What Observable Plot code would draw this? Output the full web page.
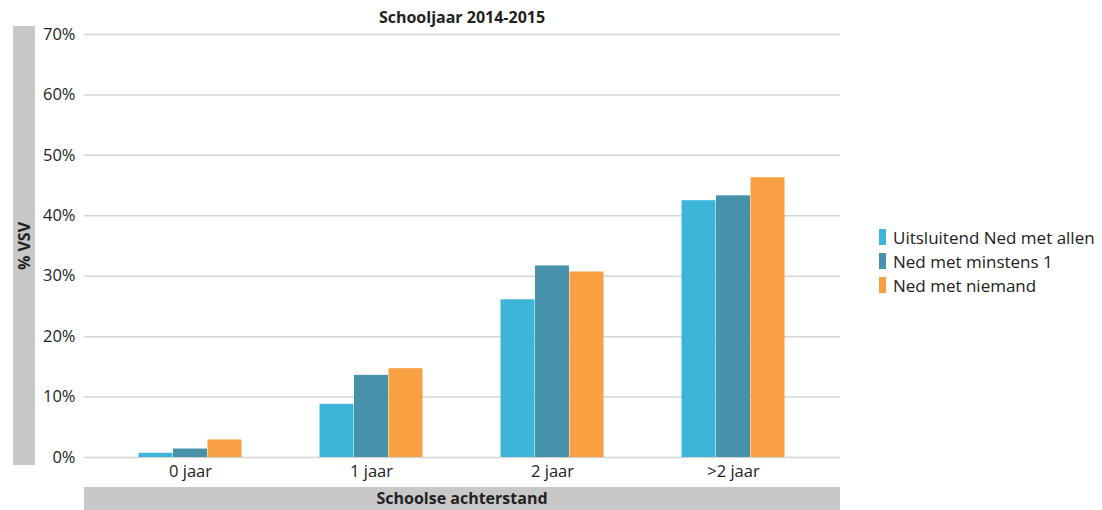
<!DOCTYPE html>
<html><head><meta charset="utf-8">
<script src="https://cdn.jsdelivr.net/npm/d3@7"></script>
<script src="https://cdn.jsdelivr.net/npm/@observablehq/plot@0.6"></script>
<style>
html,body{margin:0;padding:0;background:#fff;}
#wrap{position:relative;width:1102px;height:510px;font-family:"Open Sans",sans-serif;color:#222;}
#title{position:absolute;left:84px;width:756px;top:6px;text-align:center;font-weight:bold;font-size:16px;}
#ylab{position:absolute;left:13px;top:26px;width:22px;height:439px;background:#c8c8c9;}
#ylab span{position:absolute;left:50%;top:50%;transform:translate(-50%,-50%) rotate(-90deg);font-weight:bold;font-size:16px;white-space:nowrap;}
#xlab{position:absolute;left:84px;top:487px;width:756px;height:23px;background:#c8c8c9;text-align:center;font-weight:bold;font-size:16px;line-height:23px;}
#legend{position:absolute;left:879px;top:225px;font-size:17px;}
#legend div{height:24px;display:flex;align-items:center;}
#legend i{display:inline-block;width:7px;height:16px;margin-right:7px;}
#chart{position:absolute;left:0;top:0;}
</style></head>
<body><div id="wrap"><div id="chart"></div><div id="title"></div><div id="ylab"><span></span></div><div id="xlab"></div><div id="legend"></div></div>
<script>
const title = "Schooljaar 2014-2015";
const yTitle = "% VSV";
const xTitle = "Schoolse achterstand";
const categories = ["0 jaar", "1 jaar", "2 jaar", ">2 jaar"];
const series = ["Uitsluitend Ned met allen", "Ned met minstens 1", "Ned met niemand"];
const colors = ["#3db5d8", "#4692aa", "#f9a042"];
const valuesAllen = [0.7, 8.8, 26.1, 42.5];
const valuesMinstens = [1.4, 13.6, 31.7, 43.3];
const valuesNiemand = [2.9, 14.7, 30.7, 46.3];
const yTicks = [0, 10, 20, 30, 40, 50, 60, 70];

const seriesValues = [valuesAllen, valuesMinstens, valuesNiemand];
const data = series.flatMap((s, i) => categories.map((c, j) => ({series: s, cat: c, value: seriesValues[i][j] / 100})));

document.getElementById("title").textContent = title;
document.querySelector("#ylab span").textContent = yTitle;
document.getElementById("xlab").textContent = xTitle;
const leg = document.getElementById("legend");
series.forEach((s, i) => {
  const d = document.createElement("div");
  d.innerHTML = `<i style="background:${colors[i]}"></i>`;
  d.appendChild(document.createTextNode(s));
  leg.appendChild(d);
});

const offsets = [-34.5, 0, 34.5];
const chart = Plot.plot({
  width: 1102, height: 510,
  marginLeft: 84, marginRight: 262, marginTop: 34, marginBottom: 53,
  style: {fontFamily: "'Open Sans', sans-serif", fontSize: "16.5px", color: "#222", background: "transparent"},
  x: {domain: categories, paddingInner: 0.81, paddingOuter: 0.482, label: null},
  y: {domain: [0, 0.7], label: null},
  color: {domain: series, range: colors},
  marks: [
    Plot.ruleY(yTicks.map(t => t / 100), {stroke: "#d4d4d4", strokeWidth: 1.5}),
    Plot.ruleX([0], {frameAnchor: "left", y1: 0, y2: 0.7, stroke: "#d4d4d4", strokeWidth: 1.5}),
    ...series.map((s, i) => Plot.barY(data.filter(d => d.series === s), {x: "cat", y: "value", fill: "series", dx: offsets[i]})),
    Plot.axisY({ticks: yTicks.map(t => t / 100), tickFormat: d => Math.round(d * 100) + "%", tickSize: 0, tickPadding: 9, label: null}),
    Plot.axisX({tickSize: 0, tickPadding: 8, label: null})
  ]
});
document.getElementById("chart").appendChild(chart);
</script></body></html>
